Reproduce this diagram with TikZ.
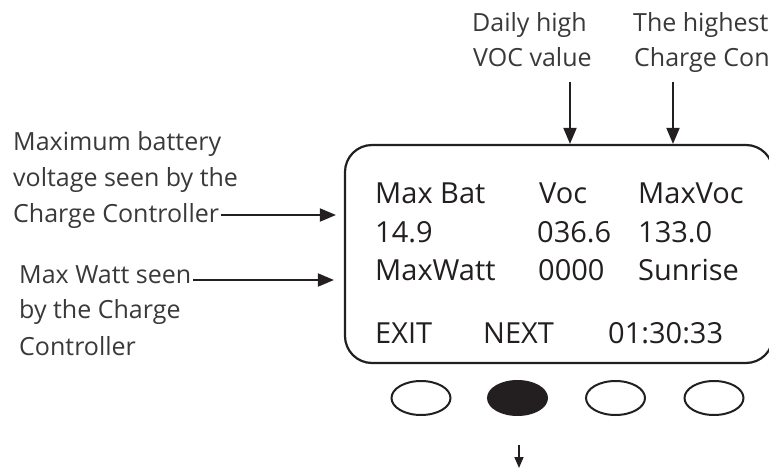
\documentclass[tikz,border=0pt]{standalone}
\usepackage{fontspec}
\setmainfont{Open Sans}
\usetikzlibrary{arrows.meta,shapes.geometric}
\definecolor{ink}{HTML}{231F20}
\definecolor{labink}{HTML}{3A3839}
\begin{document}
\begin{tikzpicture}[x=1pt,y=-1pt,
  lab/.style={inner sep=0pt, anchor=base west, font=\fontsize{25}{30}\selectfont, text=labink},
  scr/.style={inner sep=0pt, anchor=base west, font=\fontsize{29}{32}\selectfont, text=ink},
  arr/.style={draw=ink, line width=2pt, -{Triangle[length=16pt,width=13pt]}},
  arrs/.style={draw=ink, line width=1.6pt, -{Triangle[length=11pt,width=9pt]}},
  btn/.style={ellipse, draw=ink, line width=2pt, minimum width=59pt, minimum height=34pt, inner sep=0pt},
  screen/.style={draw=ink, line width=2.2pt, rounded corners=27pt, minimum width=428pt, minimum height=218pt, inner sep=0pt}
  ]
\useasboundingbox (0,0) rectangle (769,469);
\clip (0,0) rectangle (769,469);

% display
\node[screen] (box) at (559,254) {};

% left labels
\node[lab] (m1) at (13,150) {Maximum battery};
\node[lab] (m2) at (13,186) {voltage seen by the};
\node[lab] (m3) at (13,222) {Charge Controller};
\node[lab] (w1) at (19,283) {Max Watt seen};
\node[lab] (w2) at (19,318) {by the Charge};
\node[lab] (w3) at (19,355) {Controller};

% top labels
\node[lab] (d1) at (472,31) {Daily high};
\node[lab] (d2) at (473,66) {VOC value};
\node[lab] (h1) at (633,31) {The highest};
\node[lab] (h2) at (634,66) {Charge Con};

% arrows
\draw[arr] ([xshift=2pt,yshift=7pt]m3.base east) -- ([xshift=-8pt,yshift=7pt]m3.base east -| box.west);
\draw[arr] ([xshift=2pt,yshift=3pt]w1.base east) -- ([xshift=-10pt,yshift=3pt]w1.base east -| box.west);
\coordinate (t1) at (570,82);
\coordinate (t2) at (673,82);
\draw[arr] (t1) -- (t1 |- box.north);
\draw[arr] (t2) -- (t2 |- box.north);

% screen text
\node[scr] (s11) at (375,203) {Max Bat};
\node[scr] (s12) at (539,203) {Voc};
\node[scr] (s13) at (638,203) {MaxVoc};
\node[scr] (s21) at (375,242) {14.9};
\node[scr] (s22) at (537,242) {036.6};
\node[scr] (s23) at (638,242) {133.0};
\node[scr] (s31) at (375,280) {MaxWatt};
\node[scr] (s32) at (538,280) {0000};
\node[scr] (s33) at (638,280) {Sunrise};
\node[scr] (s41) at (375,343) {EXIT};
\node[scr] (s42) at (483,343) {NEXT};
\node[scr] (s43) at (608,343) {01:30:33};

% buttons
\node[btn] (b1) at (421,398) {};
\node[btn, fill=ink] (b2) at (517.5,398) {};
\node[btn] (b3) at (615.5,398) {};
\node[btn] (b4) at (714,398) {};

% bottom arrow
\coordinate (n1) at (519,445);
\coordinate (n2) at (519,468);
\draw[arrs] (n1) -- (n2);
\end{tikzpicture}
\end{document}
